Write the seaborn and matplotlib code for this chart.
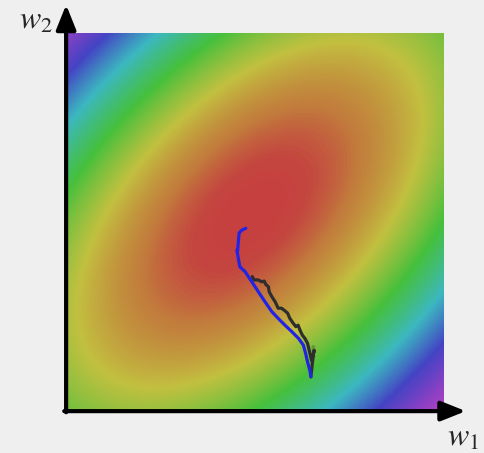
import numpy as np
import matplotlib
matplotlib.use("Agg")
import matplotlib.pyplot as plt
import seaborn as sns
from matplotlib.colors import LinearSegmentedColormap

# loss surface: elongated bowl tilted 45 deg
center = (4.84, 5.17)
minor_scale = 6.83
major_scale = 12.6

# colour stops along loss value
stop_vals = [0.0, 0.02, 0.075, 0.204, 0.378, 0.582, 0.794, 1.0, 1.2]
stop_cols = ['#c64040', '#c44640', '#c27a3c', '#c2c040', '#46c03c',
             '#3cb8c0', '#4444c4', '#8c40c4', '#c040c0']

# optimisation paths (w1, w2)
blue_w1 = [4.73, 4.62, 4.55, 4.51, 4.49, 4.51, 4.57, 4.71, 4.89, 5.06, 5.24,
           5.42, 5.59, 5.77, 5.95, 6.13, 6.26, 6.32, 6.37, 6.44, 6.46]
blue_w2 = [4.82, 4.77, 4.69, 4.51, 4.24, 3.93, 3.80, 3.67, 3.40, 3.14, 2.87,
           2.61, 2.43, 2.25, 2.08, 1.90, 1.72, 1.50, 1.28, 1.02, 0.88]

black_w1 = [4.90, 4.95, 5.06, 5.15, 5.22, 5.26, 5.33, 5.35, 5.42, 5.51, 5.59,
            5.68, 5.77, 5.84, 5.90, 5.99, 6.06, 6.12, 6.17, 6.23, 6.30, 6.37,
            6.48, 6.55, 6.52, 6.55, 6.52, 6.48, 6.48, 6.46]
black_w2 = [3.54, 3.45, 3.45, 3.40, 3.42, 3.33, 3.27, 3.14, 3.01, 2.87, 2.70,
            2.70, 2.63, 2.57, 2.43, 2.30, 2.21, 2.25, 2.12, 1.99, 1.90, 1.77,
            1.72, 1.71, 1.59, 1.46, 1.33, 1.19, 1.02, 0.88]

sns.set_style("white")
plt.rcParams['mathtext.fontset'] = 'stix'
bg = '#f0eff0'

vmax = stop_vals[-1]
cmap = LinearSegmentedColormap.from_list(
    'loss', [(v / vmax, c) for v, c in zip(stop_vals, stop_cols)])

g = np.linspace(0, 10, 400)
W1, W2 = np.meshgrid(g, g)
dx, dy = W1 - center[0], W2 - center[1]
u = (dx - dy) / np.sqrt(2)
v = (dx + dy) / np.sqrt(2)
loss = (u / minor_scale) ** 2 + (v / major_scale) ** 2

fig = plt.figure(figsize=(4.84, 4.53), dpi=100, facecolor=bg)
ax = fig.add_axes([68 / 484, 43 / 453, 376 / 484, 377 / 453])
ax.imshow(loss, extent=[0, 10, 0, 10], origin='lower', cmap=cmap,
          vmin=0, vmax=vmax, interpolation='bilinear', aspect='auto')

sns.lineplot(x=black_w1, y=black_w2, sort=False, color='#2e2e2e', lw=2.3, ax=ax)
sns.lineplot(x=blue_w1, y=blue_w2, sort=False, color='#2323e6', lw=2.3, ax=ax)

ax.set_xlim(0, 10)
ax.set_ylim(0, 10)
ax.set_xticks([])
ax.set_yticks([])
for s in ax.spines.values():
    s.set_visible(False)

arrow = dict(arrowstyle='-|>,head_length=0.75,head_width=0.3', color='black',
             lw=3, shrinkA=0, shrinkB=0, mutation_scale=20)
ax.annotate('', xy=(-0.005, 1.075), xytext=(-0.005, -0.006),
            xycoords='axes fraction', arrowprops=arrow, annotation_clip=False)
ax.annotate('', xy=(1.058, -0.003), xytext=(-0.01, -0.003),
            xycoords='axes fraction', arrowprops=arrow, annotation_clip=False)

fig.text(36 / 484, 1 - 20 / 453, r'$w_2$', fontsize=23, ha='center', va='center')
fig.text(463 / 484, 1 - 437 / 453, r'$w_1$', fontsize=23, ha='center', va='center')

fig.savefig('out.png', dpi=100, facecolor=bg)
